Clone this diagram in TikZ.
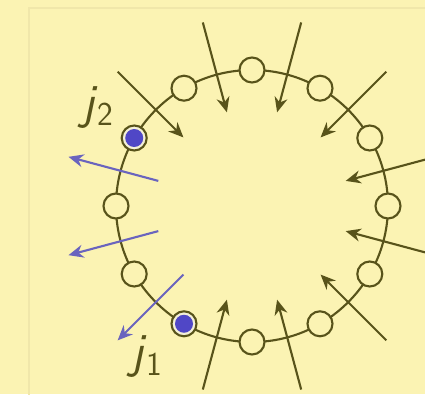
\documentclass[tikz,border=0pt]{standalone}
\usepackage{tikz}
\usetikzlibrary{arrows.meta,positioning}

\definecolor{bgyellow}{RGB}{251,243,179}
\definecolor{frameline}{RGB}{240,231,170}
\definecolor{lineolive}{RGB}{88,83,26}
\definecolor{flowblue}{RGB}{106,100,190}
\definecolor{siteblue}{RGB}{80,71,198}
\definecolor{ringcream}{RGB}{244,240,214}

\begin{document}
\begin{tikzpicture}[
        site/.style={circle, draw=lineolive, line width=1.2pt, fill=bgyellow, minimum size=0.5cm, inner sep=0pt},
        hit/.style={site, fill=ringcream, path picture={\fill[siteblue] (path picture bounding box.center) circle (0.18);}},
        inflow/.style={-{Stealth[length=0.3cm, width=0.26cm]}, line width=1.2pt, draw=lineolive},
        outflow/.style={inflow, draw=flowblue},
        lbl/.style={text=lineolive, inner sep=0pt, font=\sffamily\fontsize{28}{30}\selectfont},
    ]
        \clip (-5.04,-3.76) rectangle (3.46,4.12);
        \fill[bgyellow] (-5.04,-3.76) rectangle (3.46,4.12);
        \draw[frameline, line width=0.6pt] (-4.46,-3.8) -- (-4.46,3.96) -- (3.5,3.96);

        \coordinate (c) at (0,0);
        \draw[lineolive, line width=1.2pt] (c) circle (2.72);

        % currents in and out of the ring
        \foreach \a in {15,45,75,105,135,255,285,315,345} {
            \coordinate (out\a) at (\a:3.8);
            \coordinate (in\a) at (\a:1.94);
            \draw[inflow] (out\a) -- (in\a);
        }
        \foreach \a in {165,195,225} {
            \coordinate (in\a) at (\a:1.94);
            \coordinate (out\a) at (\a:3.8);
            \draw[outflow] (in\a) -- (out\a);
        }

        % sites
        \foreach \k/\kind in {0/site,1/site,2/site,3/site,4/site,5/hit,6/site,7/site,8/hit,9/site,10/site,11/site}
            \node[\kind] (n\k) at (30*\k:2.72) {};

        \node[lbl, anchor=base west] (j2) at ([shift={(-1.04,0.4)}]n5.center) {\textit{j}\raisebox{-4.5pt}{\fontsize{19}{19}\selectfont 2}};
        \node[lbl, anchor=base west] (j1) at ([shift={(-1.06,-0.87)}]n8.center) {\textit{j}\raisebox{-4.5pt}{\fontsize{19}{19}\selectfont 1}};

    \end{tikzpicture}
\end{document}
